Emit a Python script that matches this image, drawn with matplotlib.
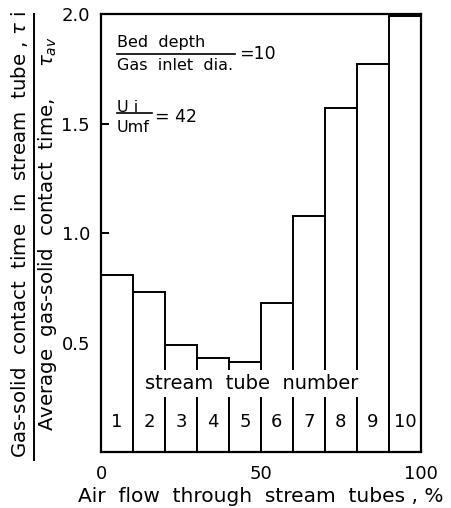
import matplotlib
matplotlib.use('Agg')
import matplotlib.pyplot as plt
import numpy as np
from matplotlib.lines import Line2D

# data
tube_number = [1, 2, 3, 4, 5, 6, 7, 8, 9, 10]
flow_share = [10, 10, 10, 10, 10, 10, 10, 10, 10, 10]          # % of air flow per stream tube
contact_ratio = [0.81, 0.73, 0.49, 0.43, 0.41, 0.68, 1.08, 1.57, 1.77, 1.99]
y_ticks = [0.5, 1.0, 1.5, 2.0]
y_ticklabels = ['0.5', '1.0', '1.5', '2.0']
x_ticks = [0, 50, 100]
x_ticklabels = ['0', '50', '100']

plt.rcParams['font.family'] = 'DejaVu Sans'
plt.rcParams['mathtext.fontset'] = 'dejavusans'

fig = plt.figure(figsize=(4.52, 5.08), dpi=100)
ax = fig.add_axes([0.2235, 0.110, 0.7075, 0.8625])

left = np.concatenate([[0], np.cumsum(flow_share)[:-1]])
ax.bar(left, contact_ratio, width=flow_share, align='edge',
       color='white', edgecolor='black', linewidth=1.4, zorder=2)

# stream tube numbers inside each bar
for l, w, n in zip(left, flow_share, tube_number):
    ax.text(l + w / 2, 0.137, str(n), ha='center', va='center', fontsize=13, zorder=4)

ax.text(47, 0.315, 'stream  tube  number', ha='center', va='center', fontsize=14,
        zorder=4, bbox=dict(facecolor='white', edgecolor='none', pad=3))

# parameter annotations
ax.text(5, 1.868, 'Bed  depth', ha='left', va='center', fontsize=11.5)
ax.plot([5, 42], [1.817, 1.817], color='black', lw=1.2)
ax.text(5, 1.763, 'Gas  inlet  dia.', ha='left', va='center', fontsize=11.5)
ax.text(43.2, 1.815, '=10', ha='left', va='center', fontsize=12.5)

ax.text(5, 1.575, 'U i', ha='left', va='center', fontsize=11.5)
ax.plot([5, 16], [1.548, 1.548], color='black', lw=1.2)
ax.text(5, 1.484, 'Umf', ha='left', va='center', fontsize=11.5)
ax.text(17, 1.53, '= 42', ha='left', va='center', fontsize=12.5)

ax.set_xlim(0, 100)
ax.set_ylim(0, 2.0)
ax.set_yticks(y_ticks)
ax.set_yticklabels(y_ticklabels)
ax.set_xticks(x_ticks)
ax.set_xticklabels(x_ticklabels)
ax.tick_params(axis='y', direction='in', length=6, width=1.4, labelsize=13, pad=8)
ax.tick_params(axis='x', length=0, labelsize=13, pad=9)
for s in ax.spines.values():
    s.set_linewidth(1.6)

ax.set_xlabel('Air  flow  through  stream  tubes , %', fontsize=14.5, labelpad=3)

# y label drawn as a fraction
fig.text(20 / 452, 1 - 234 / 508, r'Gas-solid  contact  time  in  stream  tube , $\tau$ i',
         rotation=90, ha='center', va='center', fontsize=14.2)
fig.text(48 / 452, 1 - 234 / 508, r'Average  gas-solid  contact  time,     $\tau_{av}$',
         rotation=90, ha='center', va='center', fontsize=14.2)
fig.add_artist(Line2D([34 / 452, 34 / 452], [1 - 14 / 508, 1 - 460 / 508],
                      transform=fig.transFigure, color='black', lw=1.4))

fig.savefig('out.png', dpi=100)
